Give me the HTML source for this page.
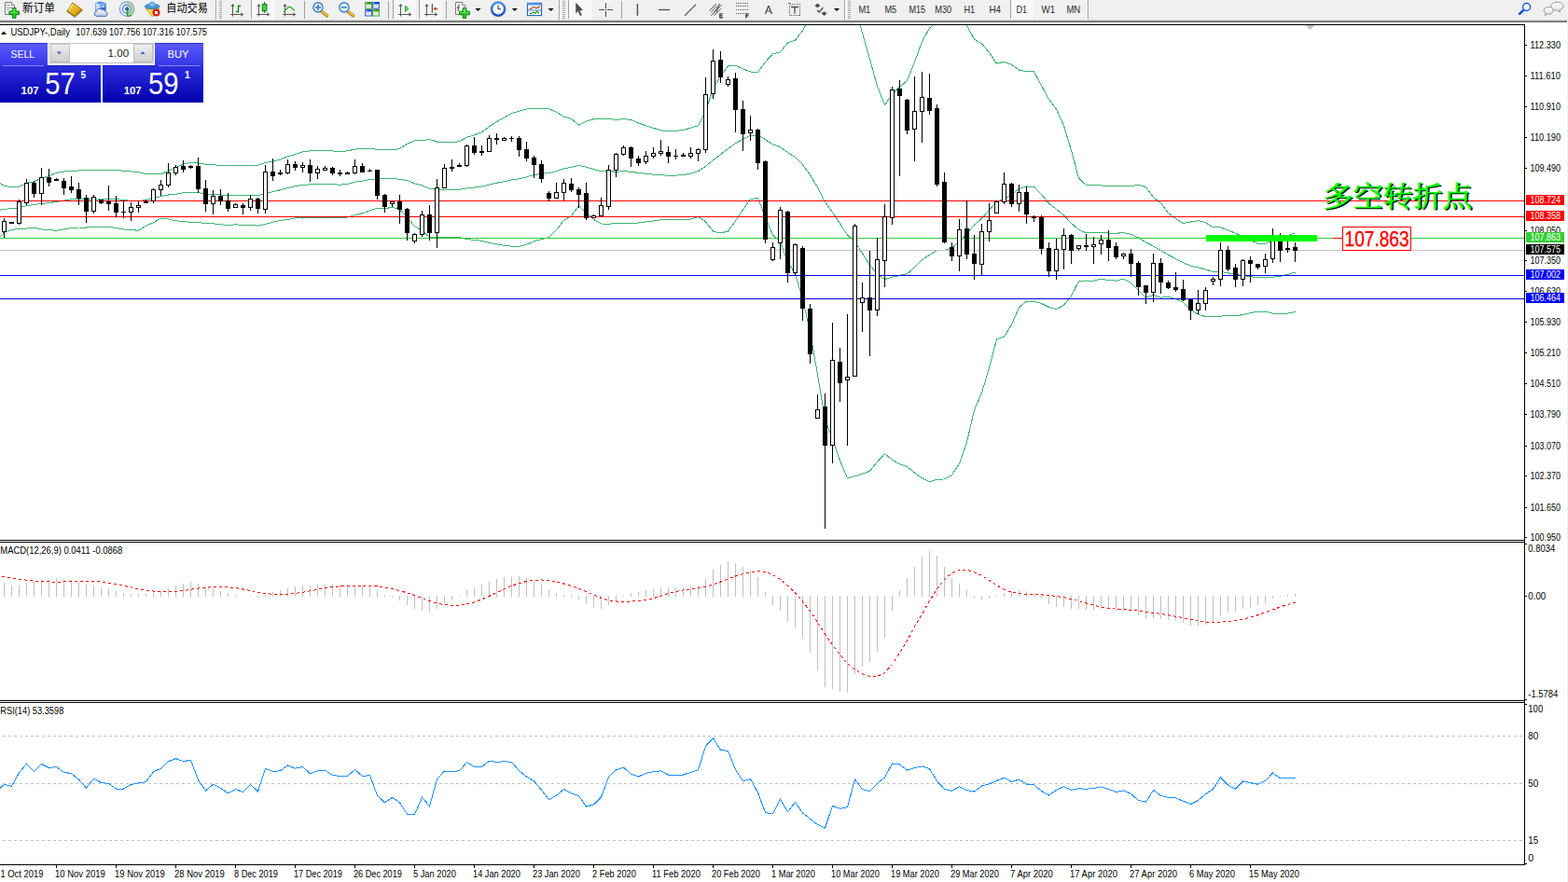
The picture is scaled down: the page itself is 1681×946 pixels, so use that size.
<!DOCTYPE html><html><head><meta charset="utf-8"><title>USDJPY-,Daily</title><style>html,body{margin:0;padding:0;background:#fff;overflow:hidden}body{width:1681px;height:946px;position:relative;font-family:"Liberation Sans",sans-serif}</style></head><body><svg width="1681" height="946" viewBox="0 0 1681 946" shape-rendering="crispEdges" font-family="Liberation Sans, sans-serif" style="position:absolute;left:0;top:0">
<rect x="0" y="0" width="1681" height="946" fill="#fff"/>
<rect x="0" y="26" width="1635" height="1" fill="#000"/>
<rect x="0" y="579" width="1635" height="1" fill="#000"/>
<rect x="0" y="581" width="1635" height="1" fill="#000"/>
<rect x="0" y="751" width="1635" height="1" fill="#000"/>
<rect x="0" y="753" width="1635" height="1" fill="#000"/>
<rect x="0" y="927" width="1635" height="1" fill="#000"/>
<rect x="1634" y="26" width="1" height="902" fill="#000"/>
<rect x="1680" y="24" width="1" height="922" fill="#f0f0f0"/>
<polyline points="-3.5,193.5 4.5,199.4 12.5,200.7 20.5,200.2 28.5,196.2 36.5,195 44.5,191.1 52.5,188.5 60.5,185.5 68.5,184.1 76.5,183.2 84.5,183 92.5,182.9 100.5,182.7 108.5,182.6 116.5,182.7 124.5,182.5 132.5,183.3 140.5,184 148.5,184.5 156.5,186.6 164.5,186.6 172.5,187 180.5,183.1 188.5,179.6 196.5,176.1 204.5,174.3 212.5,174.9 220.5,176.3 228.5,176.8 236.5,177.3 244.5,177.2 252.5,177.5 260.5,177.5 268.5,177.5 276.5,177.3 284.5,174.4 292.5,173 300.5,171.2 308.5,167.7 316.5,165.5 324.5,162.8 332.5,161.8 340.5,161.3 348.5,161.4 356.5,161.9 364.5,162.9 372.5,161.8 380.5,160.2 388.5,159.4 396.5,159.1 404.5,160.5 412.5,160.1 420.5,161 428.5,159.5 436.5,154.4 444.5,150.8 452.5,150.8 460.5,149.4 468.5,152 476.5,152 484.5,152.6 492.5,151.7 500.5,147.3 508.5,144.8 516.5,141.7 524.5,135.7 532.5,130.5 540.5,126.1 548.5,121.6 556.5,119.1 564.5,117.1 572.5,116.2 580.5,116.1 588.5,116.7 596.5,120.2 604.5,125.1 612.5,127.4 620.5,134.1 628.5,130.2 636.5,127.7 644.5,127.1 652.5,127.3 660.5,128.5 668.5,127.7 676.5,128.4 684.5,132 692.5,134.7 700.5,137.4 708.5,139.8 716.5,140.8 724.5,140.5 732.5,139.5 740.5,137.1 748.5,134.8 756.5,118.9 764.5,95.2 772.5,81.5 780.5,70.9 788.5,70.3 796.5,73.8 804.5,77 812.5,77.4 820.5,66.4 828.5,57.7 836.5,55.9 844.5,46 852.5,43.1 860.5,32.8 868.5,18.9 876.5,0.4 884.5,-16.7 892.5,-15.8 900.5,-14.2 908.5,-8.8 916.5,7.5 924.5,35.5 932.5,63.3 940.5,92.6 948.5,112.6 956.5,101.3 964.5,93.1 972.5,86.7 980.5,66.6 988.5,44.6 996.5,30.1 1004.5,23.3 1012.5,23.2 1020.5,22.1 1028.5,21 1036.5,27.2 1044.5,42.3 1052.5,46.8 1060.5,56.4 1068.5,68.2 1076.5,66.3 1084.5,69.3 1092.5,75.1 1100.5,76.8 1108.5,76.8 1116.5,91.8 1124.5,106.6 1132.5,117.1 1140.5,134.8 1148.5,161.5 1156.5,191.1 1164.5,198.7 1172.5,198.7 1180.5,199 1188.5,199.4 1196.5,199.3 1204.5,200 1212.5,199.6 1220.5,198.3 1228.5,200.6 1236.5,211.7 1244.5,217.6 1252.5,228.6 1260.5,234.5 1268.5,239.6 1276.5,238 1284.5,236.7 1292.5,238.7 1300.5,243.9 1308.5,243.8 1316.5,246.9 1324.5,250.3 1332.5,253.1 1340.5,257.7 1348.5,261.1 1356.5,261.4 1364.5,258 1372.5,255.9 1380.5,252.5 1388.5,249.8" fill="none" stroke="#3cb371" stroke-width="1" clip-path="url(#cm)"/>
<polyline points="-3.5,226 4.5,224.2 12.5,223.7 20.5,222.7 28.5,220.7 36.5,219.5 44.5,218.5 52.5,217.6 60.5,216.4 68.5,215.1 76.5,213.8 84.5,213.5 92.5,213.5 100.5,213.2 108.5,213 116.5,213 124.5,213.5 132.5,214.7 140.5,215.3 148.5,215.9 156.5,214.3 164.5,212.7 172.5,210.6 180.5,209 188.5,208.2 196.5,206.8 204.5,206.3 212.5,206.7 220.5,207.9 228.5,208.3 236.5,208.9 244.5,209.5 252.5,209.1 260.5,209.7 268.5,209.4 276.5,209.7 284.5,207.5 292.5,205.6 300.5,203.8 308.5,201.6 316.5,199.7 324.5,198.4 332.5,197.8 340.5,197.6 348.5,197.7 356.5,197.8 364.5,198.2 372.5,197.4 380.5,195.3 388.5,194.1 396.5,192.5 404.5,191.8 412.5,191.9 420.5,191.6 428.5,192.2 436.5,193.5 444.5,196.8 452.5,198.9 460.5,202.1 468.5,203.3 476.5,203.3 484.5,203.5 492.5,203.2 500.5,201.9 508.5,201.1 516.5,200 524.5,198.1 532.5,196.2 540.5,194.7 548.5,192.9 556.5,191.8 564.5,189.8 572.5,187.5 580.5,186.3 588.5,185.7 596.5,183.5 604.5,180.8 612.5,179.4 620.5,177.4 628.5,179.1 636.5,181.6 644.5,183.6 652.5,183.7 660.5,184.2 668.5,183.8 676.5,184.2 684.5,185.5 692.5,186.3 700.5,187.2 708.5,187.8 716.5,188.2 724.5,188.1 732.5,187.6 740.5,186.2 748.5,183.6 756.5,178.3 764.5,171.8 772.5,165.7 780.5,159.5 788.5,153.7 796.5,149.3 804.5,145.3 812.5,144.9 820.5,149.6 828.5,154.9 836.5,157.7 844.5,163.6 852.5,168.3 860.5,176.7 868.5,187.6 876.5,201.1 884.5,216.6 892.5,227.5 900.5,239.8 908.5,252.1 916.5,259.1 924.5,271.8 932.5,284.3 940.5,293.9 948.5,299.6 956.5,297.2 964.5,295.4 972.5,293.7 980.5,286.8 988.5,278.8 996.5,273.4 1004.5,268.7 1012.5,268.6 1020.5,265.8 1028.5,259.1 1036.5,250.8 1044.5,241.1 1052.5,234.2 1060.5,225.4 1068.5,216 1076.5,213.8 1084.5,208.8 1092.5,202.4 1100.5,200 1108.5,200.1 1116.5,208.7 1124.5,218.1 1132.5,224.4 1140.5,231.1 1148.5,239.3 1156.5,246.5 1164.5,249.8 1172.5,249.9 1180.5,249.1 1188.5,250.1 1196.5,250.2 1204.5,249.7 1212.5,251.4 1220.5,255 1228.5,259.9 1236.5,264.1 1244.5,268.4 1252.5,273.5 1260.5,277.6 1268.5,281.9 1276.5,285.2 1284.5,286.9 1292.5,289.1 1300.5,291.5 1308.5,291.4 1316.5,292.8 1324.5,294.5 1332.5,295.4 1340.5,296.6 1348.5,297.7 1356.5,297.8 1364.5,297.1 1372.5,296.4 1380.5,294.4 1388.5,292.1" fill="none" stroke="#3cb371" stroke-width="1" clip-path="url(#cm)"/>
<polyline points="-3.5,258.5 4.5,249 12.5,246.6 20.5,245.1 28.5,245.1 36.5,244.1 44.5,246 52.5,246.7 60.5,247.3 68.5,246 76.5,244.5 84.5,244 92.5,244 100.5,243.7 108.5,243.4 116.5,243.4 124.5,244.5 132.5,246 140.5,246.7 148.5,247.2 156.5,242.1 164.5,238.7 172.5,234.1 180.5,234.9 188.5,236.7 196.5,237.6 204.5,238.4 212.5,238.5 220.5,239.6 228.5,239.9 236.5,240.6 244.5,241.8 252.5,240.7 260.5,241.9 268.5,241.4 276.5,242.1 284.5,240.6 292.5,238.1 300.5,236.4 308.5,235.5 316.5,233.9 324.5,234 332.5,233.8 340.5,233.9 348.5,233.9 356.5,233.8 364.5,233.5 372.5,233 380.5,230.5 388.5,228.8 396.5,225.9 404.5,223.1 412.5,223.8 420.5,222.2 428.5,224.9 436.5,232.6 444.5,242.9 452.5,247 460.5,254.7 468.5,254.6 476.5,254.6 484.5,254.4 492.5,254.6 500.5,256.5 508.5,257.4 516.5,258.3 524.5,260.4 532.5,261.9 540.5,263.3 548.5,264.2 556.5,264.4 564.5,262.4 572.5,258.8 580.5,256.5 588.5,254.7 596.5,246.8 604.5,236.4 612.5,231.5 620.5,220.7 628.5,227.9 636.5,235.5 644.5,240 652.5,240.1 660.5,239.8 668.5,240 676.5,239.9 684.5,239 692.5,238 700.5,236.9 708.5,235.8 716.5,235.5 724.5,235.6 732.5,235.7 740.5,235.3 748.5,232.3 756.5,237.7 764.5,248.3 772.5,249.9 780.5,248.1 788.5,237.1 796.5,224.9 804.5,213.6 812.5,212.5 820.5,232.7 828.5,252.1 836.5,259.4 844.5,281.1 852.5,293.5 860.5,320.5 868.5,356.2 876.5,401.8 884.5,449.9 892.5,470.8 900.5,493.9 908.5,512.9 916.5,510.7 924.5,508.1 932.5,505.3 940.5,495.3 948.5,486.7 956.5,493.2 964.5,497.8 972.5,500.7 980.5,507 988.5,512.9 996.5,516.8 1004.5,514.1 1012.5,514 1020.5,509.5 1028.5,497.2 1036.5,474.4 1044.5,439.8 1052.5,421.5 1060.5,394.4 1068.5,363.8 1076.5,361.2 1084.5,348.2 1092.5,329.7 1100.5,323.2 1108.5,323.4 1116.5,325.5 1124.5,329.5 1132.5,331.7 1140.5,327.3 1148.5,317.1 1156.5,301.9 1164.5,301 1172.5,301.2 1180.5,299.1 1188.5,300.7 1196.5,301.1 1204.5,299.3 1212.5,303.2 1220.5,311.7 1228.5,319.2 1236.5,316.6 1244.5,319.1 1252.5,318.4 1260.5,320.6 1268.5,324.3 1276.5,332.5 1284.5,337.2 1292.5,339.6 1300.5,339.1 1308.5,339.1 1316.5,338.6 1324.5,338.7 1332.5,337.6 1340.5,335.6 1348.5,334.3 1356.5,334.2 1364.5,336.1 1372.5,336.8 1380.5,336.2 1388.5,334.4" fill="none" stroke="#3cb371" stroke-width="1" clip-path="url(#cm)"/>
<defs><clipPath id="cm"><rect x="0" y="27" width="1634" height="552"/></clipPath></defs>
<rect x="0" y="215" width="1634" height="1" fill="#f00"/>
<rect x="0" y="232" width="1634" height="1" fill="#f00"/>
<rect x="0" y="255" width="1634" height="1" fill="#32cd32"/>
<rect x="0" y="268" width="1634" height="1" fill="#c0c0c0"/>
<rect x="0" y="295" width="1634" height="1" fill="#00f"/>
<rect x="0" y="320" width="1634" height="1" fill="#00f"/>
<path d="M4 234h1v21h-1zM2 237h5v12h-5zM12 238h1v2h-1zM10 238h5v2h-5zM20 214h1v27h-1zM18 216h5v24h-5zM28 192h1v28h-1zM26 196h5v22h-5zM36 194h1v18h-1zM34 196h5v12h-5zM44 180h1v40h-1zM42 190h5v18h-5zM52 181h1v19h-1zM50 190h5v6h-5zM60 191h1v3h-1zM58 192h5v2h-5zM68 191h1v18h-1zM66 194h5v8h-5zM76 189h1v18h-1zM74 200h5v4h-5zM84 196h1v24h-1zM82 203h5v10h-5zM92 209h1v30h-1zM90 212h5v15h-5zM100 209h1v20h-1zM98 211h5v16h-5zM108 214h1v5h-1zM106 214h5v4h-5zM116 199h1v27h-1zM114 216h5v3h-5zM124 210h1v23h-1zM122 218h5v10h-5zM132 215h1v19h-1zM130 227h5v1h-5zM140 217h1v20h-1zM138 222h5v6h-5zM148 215h1v13h-1zM146 220h5v3h-5zM156 214h1v4h-1zM154 216h5v2h-5zM164 202h1v16h-1zM162 203h5v13h-5zM172 193h1v17h-1zM170 198h5v6h-5zM180 175h1v26h-1zM178 185h5v14h-5zM188 177h1v11h-1zM186 179h5v7h-5zM196 172h1v13h-1zM194 178h5v4h-5zM204 177h1v4h-1zM202 178h5v2h-5zM212 169h1v38h-1zM210 178h5v25h-5zM220 193h1v34h-1zM218 202h5v17h-5zM228 204h1v26h-1zM226 210h5v9h-5zM236 203h1v17h-1zM234 210h5v6h-5zM244 207h1v20h-1zM242 215h5v9h-5zM252 218h1v5h-1zM250 219h5v4h-5zM260 218h1v12h-1zM258 220h5v3h-5zM268 209h1v17h-1zM266 213h5v10h-5zM276 212h1v17h-1zM274 213h5v11h-5zM284 177h1v52h-1zM282 184h5v41h-5zM292 170h1v24h-1zM290 184h5v5h-5zM300 182h1v6h-1zM298 185h5v2h-5zM308 171h1v16h-1zM306 176h5v10h-5zM316 173h1v10h-1zM314 176h5v4h-5zM324 174h1v11h-1zM322 177h5v3h-5zM332 171h1v24h-1zM330 177h5v9h-5zM340 178h1v14h-1zM338 181h5v5h-5zM348 178h1v5h-1zM346 180h5v3h-5zM356 179h1v9h-1zM354 180h5v6h-5zM364 182h1v7h-1zM362 185h5v2h-5zM372 184h1v3h-1zM370 185h5v2h-5zM380 171h1v16h-1zM378 178h5v8h-5zM388 175h1v10h-1zM386 178h5v7h-5zM396 181h1v3h-1zM394 183h5v1h-5zM404 182h1v32h-1zM402 182h5v28h-5zM412 208h1v20h-1zM410 209h5v13h-5zM420 216h1v6h-1zM418 216h5v3h-5zM428 209h1v31h-1zM426 216h5v9h-5zM436 223h1v35h-1zM434 224h5v26h-5zM444 250h1v11h-1zM442 251h5v8h-5zM452 226h1v28h-1zM450 230h5v22h-5zM460 220h1v38h-1zM458 230h5v20h-5zM468 192h1v74h-1zM466 201h5v49h-5zM476 176h1v26h-1zM474 180h5v22h-5zM484 171h1v13h-1zM482 179h5v2h-5zM492 175h1v4h-1zM490 177h5v2h-5zM500 155h1v24h-1zM498 156h5v22h-5zM508 147h1v19h-1zM506 156h5v8h-5zM516 156h1v11h-1zM514 162h5v2h-5zM524 145h1v18h-1zM522 148h5v15h-5zM532 143h1v12h-1zM530 148h5v2h-5zM540 147h1v4h-1zM538 148h5v3h-5zM548 146h1v6h-1zM546 148h5v1h-5zM556 146h1v22h-1zM554 148h5v13h-5zM564 152h1v21h-1zM562 160h5v10h-5zM572 167h1v24h-1zM570 169h5v8h-5zM580 172h1v24h-1zM578 176h5v16h-5zM588 205h1v11h-1zM586 207h5v6h-5zM596 196h1v17h-1zM594 206h5v7h-5zM604 192h1v23h-1zM602 196h5v11h-5zM612 191h1v15h-1zM610 197h5v7h-5zM620 201h1v22h-1zM618 203h5v6h-5zM628 196h1v40h-1zM626 207h5v27h-5zM636 230h1v4h-1zM634 231h5v3h-5zM644 212h1v20h-1zM642 220h5v12h-5zM652 177h1v48h-1zM650 182h5v40h-5zM660 164h1v26h-1zM658 165h5v18h-5zM668 156h1v11h-1zM666 158h5v8h-5zM676 157h1v22h-1zM674 158h5v12h-5zM684 167h1v11h-1zM682 170h5v5h-5zM692 162h1v14h-1zM690 167h5v7h-5zM700 158h1v12h-1zM698 164h5v4h-5zM708 150h1v17h-1zM706 162h5v3h-5zM716 157h1v18h-1zM714 163h5v5h-5zM724 160h1v11h-1zM722 167h5v1h-5zM732 164h1v4h-1zM730 166h5v2h-5zM740 158h1v12h-1zM738 164h5v4h-5zM748 159h1v14h-1zM746 160h5v5h-5zM756 83h1v81h-1zM754 101h5v60h-5zM764 53h1v53h-1zM762 65h5v36h-5zM772 55h1v34h-1zM770 64h5v19h-5zM780 82h1v11h-1zM778 85h5v6h-5zM788 78h1v64h-1zM786 84h5v34h-5zM796 108h1v54h-1zM794 117h5v27h-5zM804 124h1v27h-1zM802 139h5v4h-5zM812 138h1v44h-1zM810 139h5v36h-5zM820 172h1v89h-1zM818 173h5v84h-5zM828 260h1v20h-1zM826 265h5v14h-5zM836 222h1v56h-1zM834 225h5v36h-5zM844 226h1v77h-1zM842 227h5v66h-5zM852 261h1v34h-1zM850 262h5v31h-5zM860 264h1v80h-1zM858 266h5v65h-5zM868 326h1v64h-1zM866 331h5v49h-5zM876 423h1v26h-1zM874 439h5v10h-5zM884 422h1v145h-1zM882 436h5v42h-5zM892 346h1v151h-1zM890 386h5v92h-5zM900 373h1v58h-1zM898 388h5v23h-5zM908 337h1v141h-1zM906 404h5v4h-5zM916 240h1v164h-1zM914 242h5v162h-5zM924 303h1v53h-1zM922 319h5v6h-5zM932 269h1v113h-1zM930 319h5v14h-5zM940 255h1v84h-1zM938 278h5v55h-5zM948 219h1v89h-1zM946 232h5v48h-5zM956 93h1v148h-1zM954 96h5v138h-5zM964 86h1v103h-1zM962 95h5v8h-5zM972 106h1v38h-1zM970 107h5v33h-5zM980 82h1v91h-1zM978 119h5v20h-5zM988 77h1v76h-1zM986 104h5v16h-5zM996 79h1v44h-1zM994 105h5v14h-5zM1004 112h1v88h-1zM1002 116h5v82h-5zM1012 185h1v76h-1zM1010 195h5v65h-5zM1020 260h1v20h-1zM1018 265h5v10h-5zM1028 235h1v56h-1zM1026 246h5v29h-5zM1036 215h1v63h-1zM1034 245h5v28h-5zM1044 252h1v48h-1zM1042 272h5v11h-5zM1052 240h1v56h-1zM1050 248h5v36h-5zM1060 218h1v41h-1zM1058 236h5v13h-5zM1068 215h1v14h-1zM1066 216h5v13h-5zM1076 185h1v34h-1zM1074 197h5v20h-5zM1084 196h1v26h-1zM1082 197h5v22h-5zM1092 198h1v29h-1zM1090 206h5v13h-5zM1100 200h1v40h-1zM1098 206h5v24h-5zM1108 231h1v7h-1zM1106 232h5v2h-5zM1116 231h1v42h-1zM1114 233h5v34h-5zM1124 260h1v37h-1zM1122 266h5v25h-5zM1132 256h1v44h-1zM1130 267h5v24h-5zM1140 245h1v44h-1zM1138 252h5v16h-5zM1148 251h1v32h-1zM1146 252h5v17h-5zM1156 263h1v6h-1zM1154 263h5v4h-5zM1164 251h1v18h-1zM1162 263h5v2h-5zM1172 254h1v29h-1zM1170 262h5v3h-5zM1180 252h1v21h-1zM1178 257h5v5h-5zM1188 247h1v33h-1zM1186 257h5v9h-5zM1196 260h1v18h-1zM1194 264h5v12h-5zM1204 271h1v7h-1zM1202 272h5v3h-5zM1212 267h1v30h-1zM1210 272h5v11h-5zM1220 280h1v37h-1zM1218 282h5v26h-5zM1228 306h1v20h-1zM1226 306h5v8h-5zM1236 272h1v52h-1zM1234 282h5v32h-5zM1244 277h1v38h-1zM1242 282h5v21h-5zM1252 301h1v9h-1zM1250 303h5v6h-5zM1260 292h1v21h-1zM1258 308h5v3h-5zM1268 300h1v23h-1zM1266 310h5v12h-5zM1276 321h1v22h-1zM1274 321h5v12h-5zM1284 311h1v26h-1zM1282 325h5v8h-5zM1292 308h1v25h-1zM1290 311h5v15h-5zM1300 297h1v9h-1zM1298 299h5v3h-5zM1308 260h1v47h-1zM1306 268h5v32h-5zM1316 264h1v27h-1zM1314 268h5v21h-5zM1324 283h1v25h-1zM1322 287h5v13h-5zM1332 278h1v29h-1zM1330 279h5v21h-5zM1340 275h1v28h-1zM1338 279h5v4h-5zM1348 283h1v6h-1zM1346 283h5v4h-5zM1356 272h1v21h-1zM1354 278h5v8h-5zM1364 245h1v37h-1zM1362 257h5v21h-5zM1372 250h1v31h-1zM1370 257h5v12h-5zM1380 259h1v12h-1zM1378 266h5v2h-5zM1388 260h1v21h-1zM1386 265h5v4h-5z" fill="#000"/>
<path d="M3 238h3v10h-3zM19 217h3v22h-3zM27 197h3v20h-3zM43 191h3v16h-3zM99 212h3v14h-3zM139 223h3v4h-3zM147 221h3v1h-3zM163 204h3v11h-3zM171 199h3v4h-3zM179 186h3v12h-3zM187 180h3v5h-3zM227 211h3v7h-3zM251 220h3v2h-3zM267 214h3v8h-3zM283 185h3v39h-3zM307 177h3v8h-3zM323 178h3v1h-3zM339 182h3v3h-3zM347 181h3v1h-3zM379 179h3v6h-3zM419 217h3v1h-3zM443 252h3v6h-3zM451 231h3v20h-3zM467 202h3v47h-3zM475 181h3v20h-3zM499 157h3v20h-3zM523 149h3v13h-3zM539 149h3v1h-3zM595 207h3v5h-3zM603 197h3v9h-3zM635 232h3v1h-3zM643 221h3v10h-3zM651 183h3v38h-3zM659 166h3v16h-3zM667 159h3v6h-3zM691 168h3v5h-3zM699 165h3v2h-3zM707 163h3v1h-3zM739 165h3v2h-3zM747 161h3v3h-3zM755 102h3v58h-3zM763 66h3v34h-3zM779 86h3v4h-3zM803 140h3v2h-3zM827 266h3v12h-3zM835 226h3v34h-3zM851 263h3v29h-3zM875 440h3v8h-3zM891 387h3v90h-3zM907 405h3v2h-3zM915 243h3v160h-3zM923 320h3v4h-3zM939 279h3v53h-3zM947 233h3v46h-3zM955 97h3v136h-3zM979 120h3v18h-3zM987 105h3v14h-3zM1027 247h3v27h-3zM1051 249h3v34h-3zM1059 237h3v11h-3zM1067 217h3v11h-3zM1075 198h3v18h-3zM1091 207h3v11h-3zM1131 268h3v22h-3zM1139 253h3v14h-3zM1155 264h3v2h-3zM1171 263h3v1h-3zM1179 258h3v3h-3zM1203 273h3v1h-3zM1235 283h3v30h-3zM1283 326h3v6h-3zM1291 312h3v13h-3zM1299 300h3v1h-3zM1307 269h3v30h-3zM1331 280h3v19h-3zM1355 279h3v6h-3zM1363 258h3v19h-3z" fill="#fff"/>
<rect x="1293" y="252" width="119" height="7" fill="#0f0"/>
<rect x="1429" y="255" width="10" height="1" fill="#f00"/>
<rect x="1439.5" y="243.5" width="73" height="25" fill="#fff" stroke="#f00" stroke-width="1"/>
<text x="1441.6" y="264.2" font-size="23.2" fill="#f00" textLength="69" lengthAdjust="spacingAndGlyphs" shape-rendering="auto" stroke="#f00" stroke-width=".35" style="text-rendering:geometricPrecision">107.863</text>
<g shape-rendering="auto" stroke-linejoin="round"><text x="1418.6" y="220.5" font-size="30" font-family="Liberation Serif, Noto Serif CJK SC, serif" fill="#000" stroke="#000" stroke-width=".5" textLength="160" lengthAdjust="spacingAndGlyphs" transform="translate(1.3,1.3)">多空转折点</text><text x="1418.6" y="220.5" font-size="30" font-family="Liberation Serif, Noto Serif CJK SC, serif" fill="#0f0" stroke="#0f0" stroke-width=".5" textLength="160" lengthAdjust="spacingAndGlyphs">多空转折点</text></g>
<path d="M1399 27h10l-5 5z" fill="#c0c0c0"/>
<rect x="1635" y="48" width="2" height="1" fill="#000"/>
<text x="1640.5" y="52" font-size="10.3" fill="#000" textLength="32.5" lengthAdjust="spacingAndGlyphs" shape-rendering="auto">112.330</text>
<rect x="1635" y="81" width="2" height="1" fill="#000"/>
<text x="1640.5" y="85" font-size="10.3" fill="#000" textLength="32.5" lengthAdjust="spacingAndGlyphs" shape-rendering="auto">111.610</text>
<rect x="1635" y="114" width="2" height="1" fill="#000"/>
<text x="1640.5" y="118" font-size="10.3" fill="#000" textLength="32.5" lengthAdjust="spacingAndGlyphs" shape-rendering="auto">110.910</text>
<rect x="1635" y="147" width="2" height="1" fill="#000"/>
<text x="1640.5" y="151" font-size="10.3" fill="#000" textLength="32.5" lengthAdjust="spacingAndGlyphs" shape-rendering="auto">110.190</text>
<rect x="1635" y="180" width="2" height="1" fill="#000"/>
<text x="1640.5" y="184" font-size="10.3" fill="#000" textLength="32.5" lengthAdjust="spacingAndGlyphs" shape-rendering="auto">109.490</text>
<rect x="1635" y="247" width="2" height="1" fill="#000"/>
<text x="1640.5" y="251" font-size="10.3" fill="#000" textLength="32.5" lengthAdjust="spacingAndGlyphs" shape-rendering="auto">108.050</text>
<rect x="1635" y="279" width="2" height="1" fill="#000"/>
<text x="1640.5" y="283" font-size="10.3" fill="#000" textLength="32.5" lengthAdjust="spacingAndGlyphs" shape-rendering="auto">107.350</text>
<rect x="1635" y="312" width="2" height="1" fill="#000"/>
<text x="1640.5" y="316" font-size="10.3" fill="#000" textLength="32.5" lengthAdjust="spacingAndGlyphs" shape-rendering="auto">106.630</text>
<rect x="1635" y="345" width="2" height="1" fill="#000"/>
<text x="1640.5" y="349" font-size="10.3" fill="#000" textLength="32.5" lengthAdjust="spacingAndGlyphs" shape-rendering="auto">105.930</text>
<rect x="1635" y="378" width="2" height="1" fill="#000"/>
<text x="1640.5" y="382" font-size="10.3" fill="#000" textLength="32.5" lengthAdjust="spacingAndGlyphs" shape-rendering="auto">105.210</text>
<rect x="1635" y="411" width="2" height="1" fill="#000"/>
<text x="1640.5" y="415" font-size="10.3" fill="#000" textLength="32.5" lengthAdjust="spacingAndGlyphs" shape-rendering="auto">104.510</text>
<rect x="1635" y="444" width="2" height="1" fill="#000"/>
<text x="1640.5" y="448" font-size="10.3" fill="#000" textLength="32.5" lengthAdjust="spacingAndGlyphs" shape-rendering="auto">103.790</text>
<rect x="1635" y="478" width="2" height="1" fill="#000"/>
<text x="1640.5" y="482" font-size="10.3" fill="#000" textLength="32.5" lengthAdjust="spacingAndGlyphs" shape-rendering="auto">103.070</text>
<rect x="1635" y="510" width="2" height="1" fill="#000"/>
<text x="1640.5" y="514" font-size="10.3" fill="#000" textLength="32.5" lengthAdjust="spacingAndGlyphs" shape-rendering="auto">102.370</text>
<rect x="1635" y="544" width="2" height="1" fill="#000"/>
<text x="1640.5" y="548" font-size="10.3" fill="#000" textLength="32.5" lengthAdjust="spacingAndGlyphs" shape-rendering="auto">101.650</text>
<rect x="1635" y="576" width="2" height="1" fill="#000"/>
<text x="1640.5" y="580" font-size="10.3" fill="#000" textLength="32.5" lengthAdjust="spacingAndGlyphs" shape-rendering="auto">100.950</text>
<rect x="1636" y="209" width="41" height="11" fill="#f00"/>
<text x="1640.5" y="218" font-size="10.3" fill="#fff" textLength="32.5" lengthAdjust="spacingAndGlyphs" shape-rendering="auto">108.724</text>
<rect x="1636" y="226" width="41" height="11" fill="#f00"/>
<text x="1640.5" y="235" font-size="10.3" fill="#fff" textLength="32.5" lengthAdjust="spacingAndGlyphs" shape-rendering="auto">108.358</text>
<rect x="1636" y="249" width="41" height="11" fill="#32cd32"/>
<text x="1640.5" y="258" font-size="10.3" fill="#fff" textLength="32.5" lengthAdjust="spacingAndGlyphs" shape-rendering="auto">107.863</text>
<rect x="1636" y="262" width="41" height="11" fill="#000"/>
<text x="1640.5" y="271" font-size="10.3" fill="#fff" textLength="32.5" lengthAdjust="spacingAndGlyphs" shape-rendering="auto">107.575</text>
<rect x="1636" y="289" width="41" height="11" fill="#00f"/>
<text x="1640.5" y="298" font-size="10.3" fill="#fff" textLength="32.5" lengthAdjust="spacingAndGlyphs" shape-rendering="auto">107.002</text>
<rect x="1636" y="314" width="41" height="11" fill="#00f"/>
<text x="1640.5" y="323" font-size="10.3" fill="#fff" textLength="32.5" lengthAdjust="spacingAndGlyphs" shape-rendering="auto">106.464</text>
<path d="M4 625h1v15h-1zM12 628h1v12h-1zM20 628h1v12h-1zM28 625h1v15h-1zM36 624h1v16h-1zM44 622h1v18h-1zM52 621h1v19h-1zM60 620h1v20h-1zM68 621h1v19h-1zM76 622h1v18h-1zM84 624h1v16h-1zM92 627h1v13h-1zM100 628h1v12h-1zM108 630h1v10h-1zM116 631h1v9h-1zM124 634h1v6h-1zM132 636h1v4h-1zM140 637h1v3h-1zM148 637h1v3h-1zM156 637h1v3h-1zM164 636h1v4h-1zM172 634h1v6h-1zM180 631h1v9h-1zM188 628h1v12h-1zM196 626h1v14h-1zM204 624h1v16h-1zM212 626h1v14h-1zM220 630h1v10h-1zM228 631h1v9h-1zM236 634h1v6h-1zM244 636h1v4h-1zM252 638h1v2h-1zM268 639h1v1h-1zM276 639h1v2h-1zM284 638h1v2h-1zM292 635h1v5h-1zM300 633h1v7h-1zM308 631h1v9h-1zM316 629h1v11h-1zM324 628h1v12h-1zM332 628h1v12h-1zM340 627h1v13h-1zM348 627h1v13h-1zM356 627h1v13h-1zM364 628h1v12h-1zM372 629h1v11h-1zM380 629h1v11h-1zM388 629h1v11h-1zM396 630h1v10h-1zM404 633h1v7h-1zM412 638h1v2h-1zM420 639h1v1h-1zM428 639h1v5h-1zM436 639h1v10h-1zM444 639h1v14h-1zM452 639h1v15h-1zM460 639h1v18h-1zM468 639h1v14h-1zM476 639h1v8h-1zM484 639h1v4h-1zM492 639h1v1h-1zM500 633h1v7h-1zM508 630h1v10h-1zM516 627h1v13h-1zM524 623h1v17h-1zM532 621h1v19h-1zM540 619h1v21h-1zM548 618h1v22h-1zM556 618h1v22h-1zM564 620h1v20h-1zM572 623h1v17h-1zM580 627h1v13h-1zM588 633h1v7h-1zM596 636h1v4h-1zM604 638h1v2h-1zM612 639h1v2h-1zM620 639h1v4h-1zM628 639h1v9h-1zM636 639h1v12h-1zM644 639h1v14h-1zM652 639h1v10h-1zM660 639h1v5h-1zM668 639h1v1h-1zM676 636h1v4h-1zM684 635h1v5h-1zM692 633h1v7h-1zM700 632h1v8h-1zM708 630h1v10h-1zM716 630h1v10h-1zM724 630h1v10h-1zM732 630h1v10h-1zM740 629h1v11h-1zM748 628h1v12h-1zM756 621h1v19h-1zM764 611h1v29h-1zM772 606h1v34h-1zM780 602h1v38h-1zM788 604h1v36h-1zM796 608h1v32h-1zM804 612h1v28h-1zM812 619h1v21h-1zM820 635h1v5h-1zM828 639h1v10h-1zM836 639h1v16h-1zM844 639h1v28h-1zM852 639h1v34h-1zM860 639h1v46h-1zM868 639h1v61h-1zM876 639h1v80h-1zM884 639h1v98h-1zM892 639h1v100h-1zM900 639h1v103h-1zM908 639h1v104h-1zM916 639h1v84h-1zM924 639h1v76h-1zM932 639h1v71h-1zM940 639h1v60h-1zM948 639h1v45h-1zM956 639h1v16h-1zM964 633h1v7h-1zM972 620h1v20h-1zM980 608h1v32h-1zM988 597h1v43h-1zM996 591h1v49h-1zM1004 596h1v44h-1zM1012 608h1v32h-1zM1020 620h1v20h-1zM1028 626h1v14h-1zM1036 633h1v7h-1zM1044 639h1v2h-1zM1052 639h1v4h-1zM1060 639h1v3h-1zM1068 639h1v1h-1zM1076 636h1v4h-1zM1084 635h1v5h-1zM1092 633h1v7h-1zM1100 634h1v6h-1zM1108 636h1v4h-1zM1116 639h1v2h-1zM1124 639h1v9h-1zM1132 639h1v12h-1zM1140 639h1v12h-1zM1148 639h1v14h-1zM1156 639h1v14h-1zM1164 639h1v15h-1zM1172 639h1v15h-1zM1180 639h1v14h-1zM1188 639h1v14h-1zM1196 639h1v16h-1zM1204 639h1v16h-1zM1212 639h1v17h-1zM1220 639h1v21h-1zM1228 639h1v25h-1zM1236 639h1v24h-1zM1244 639h1v25h-1zM1252 639h1v26h-1zM1260 639h1v27h-1zM1268 639h1v29h-1zM1276 639h1v32h-1zM1284 639h1v32h-1zM1292 639h1v31h-1zM1300 639h1v28h-1zM1308 639h1v21h-1zM1316 639h1v18h-1zM1324 639h1v17h-1zM1332 639h1v14h-1zM1340 639h1v12h-1zM1348 639h1v10h-1zM1356 639h1v8h-1zM1364 639h1v3h-1zM1372 639h1v1h-1zM1380 638h1v2h-1zM1388 637h1v3h-1z" fill="#c0c0c0"/>
<polyline points="-3.5,618.1 4.5,619 12.5,620.2 20.5,621.4 28.5,622.2 36.5,622.9 44.5,623.4 52.5,623.9 60.5,624.2 68.5,624 76.5,623.6 84.5,623.1 92.5,623.1 100.5,623.4 108.5,624 116.5,625.1 124.5,626.5 132.5,628.2 140.5,629.9 148.5,631.7 156.5,633.1 164.5,634.1 172.5,634.7 180.5,634.8 188.5,634.4 196.5,633.5 204.5,632.3 212.5,631.1 220.5,630.3 228.5,629.7 236.5,629.5 244.5,629.8 252.5,630.6 260.5,632 268.5,633.5 276.5,635.4 284.5,636.7 292.5,637.3 300.5,637.5 308.5,637.2 316.5,636.4 324.5,635.2 332.5,633.8 340.5,632.4 348.5,630.8 356.5,629.7 364.5,628.9 372.5,628.4 380.5,628.1 388.5,628.1 396.5,628.4 404.5,629 412.5,630.2 420.5,631.7 428.5,633.5 436.5,635.9 444.5,638.6 452.5,641.5 460.5,644.6 468.5,647.2 476.5,648.7 484.5,649.3 492.5,649.1 500.5,648 508.5,645.8 516.5,642.9 524.5,639.5 532.5,635.5 540.5,631.7 548.5,628.4 556.5,625.6 564.5,623.5 572.5,622.4 580.5,622 588.5,622.6 596.5,624.1 604.5,626 612.5,628.4 620.5,631.3 628.5,634.6 636.5,638 644.5,641.4 652.5,643.8 660.5,645 668.5,645.3 676.5,645.1 684.5,644.5 692.5,643.4 700.5,641.6 708.5,639.2 716.5,636.6 724.5,634.5 732.5,632.9 740.5,631.8 748.5,630.9 756.5,629.3 764.5,626.9 772.5,624 780.5,620.9 788.5,618 796.5,615.6 804.5,613.7 812.5,612.6 820.5,613.4 828.5,616.5 836.5,621.3 844.5,628.2 852.5,636 860.5,645.1 868.5,655.3 876.5,667.2 884.5,680.2 892.5,691.7 900.5,702.1 908.5,711.9 916.5,718.1 924.5,722.9 932.5,725.6 940.5,725.5 948.5,721.6 956.5,712.5 964.5,700.7 972.5,687.2 980.5,672.2 988.5,658.3 996.5,644.5 1004.5,631.8 1012.5,621.7 1020.5,614.5 1028.5,611.3 1036.5,611.3 1044.5,613.6 1052.5,617.4 1060.5,622.4 1068.5,627.9 1076.5,632.3 1084.5,635.2 1092.5,636.7 1100.5,637.7 1108.5,637.9 1116.5,637.9 1124.5,638.5 1132.5,639.4 1140.5,640.7 1148.5,642.6 1156.5,644.6 1164.5,647 1172.5,649.1 1180.5,651.1 1188.5,652.4 1196.5,653.2 1204.5,653.6 1212.5,654.3 1220.5,655.1 1228.5,656.3 1236.5,657.3 1244.5,658.4 1252.5,659.8 1260.5,661.2 1268.5,662.7 1276.5,664.5 1284.5,666.1 1292.5,667.2 1300.5,667.5 1308.5,667.2 1316.5,666.5 1324.5,665.5 1332.5,664 1340.5,662.1 1348.5,659.7 1356.5,656.9 1364.5,653.9 1372.5,650.9 1380.5,648.5 1388.5,646.2" fill="none" stroke="#f00" stroke-width="1" stroke-dasharray="3 3"/>
<text x="0.3" y="594.4" font-size="10.3" fill="#000" textLength="131" lengthAdjust="spacingAndGlyphs" shape-rendering="auto">MACD(12,26,9) 0.0411 -0.0868</text>
<text x="1638.3" y="592" font-size="10.3" fill="#000" textLength="28.9" lengthAdjust="spacingAndGlyphs" shape-rendering="auto">0.8034</text>
<text x="1638.3" y="643" font-size="10.3" fill="#000" textLength="18.9" lengthAdjust="spacingAndGlyphs" shape-rendering="auto">0.00</text>
<text x="1638.3" y="748" font-size="10.3" fill="#000" textLength="31.9" lengthAdjust="spacingAndGlyphs" shape-rendering="auto">-1.5784</text>
<rect x="1635" y="583" width="2" height="1" fill="#000"/>
<rect x="1635" y="639" width="2" height="1" fill="#000"/>
<rect x="1635" y="750" width="2" height="1" fill="#000"/>
<path d="M3 789.5H1634" stroke="#c0c0c0" stroke-dasharray="3 3" fill="none"/>
<path d="M3 840.5H1634" stroke="#c0c0c0" stroke-dasharray="3 3" fill="none"/>
<path d="M3 901.5H1634" stroke="#c0c0c0" stroke-dasharray="3 3" fill="none"/>
<polyline points="-3.5,848.9 4.5,841.3 12.5,843.3 20.5,828.7 28.5,819.2 36.5,827.4 44.5,819.5 52.5,823.5 60.5,822.6 68.5,828.3 76.5,829.7 84.5,836.1 92.5,845 100.5,835.2 108.5,839.6 116.5,840.3 124.5,846 132.5,846 140.5,841.5 148.5,840 156.5,838.5 164.5,827.7 172.5,824.4 180.5,816.8 188.5,813.6 196.5,816.6 204.5,815.4 212.5,836.7 220.5,847.9 228.5,841.3 236.5,845.4 244.5,850.6 252.5,846.6 260.5,849.4 268.5,841.3 276.5,849.1 284.5,824.2 292.5,827.7 300.5,826.7 308.5,821 316.5,824.2 324.5,822.5 332.5,829.9 340.5,826.8 348.5,826.2 356.5,831.5 364.5,832.4 372.5,832.4 380.5,825.5 388.5,832.5 396.5,831.7 404.5,853.4 412.5,860.8 420.5,855.3 428.5,860.8 436.5,873.1 444.5,873.5 452.5,855.2 460.5,864.8 468.5,835.8 476.5,827 484.5,827.6 492.5,826.7 500.5,817.6 508.5,822.5 516.5,822.5 524.5,816.1 532.5,817.5 540.5,816.7 548.5,817.4 556.5,826.7 564.5,833.1 572.5,837.8 580.5,847.1 588.5,857.9 596.5,853.1 604.5,846.5 612.5,850.8 620.5,853.5 628.5,865.1 636.5,862.9 644.5,854.9 652.5,833.3 660.5,825.9 668.5,823.1 676.5,830.2 684.5,833 692.5,829.2 700.5,827.8 708.5,826.8 716.5,831 724.5,831 732.5,831 740.5,828.4 748.5,825.8 756.5,800.3 764.5,791.7 772.5,804.3 780.5,805.6 788.5,825.4 796.5,837.6 804.5,835.6 812.5,850.1 820.5,871.5 828.5,873 836.5,857.2 844.5,870.7 852.5,860.5 860.5,871.9 868.5,878.2 876.5,884.5 884.5,888 892.5,864.2 900.5,867.3 908.5,865.6 916.5,835.8 924.5,846.7 932.5,848.6 940.5,840.2 948.5,833.9 956.5,818.9 964.5,820 972.5,826 980.5,823.6 988.5,821.9 996.5,824.6 1004.5,837.7 1012.5,846.4 1020.5,848.4 1028.5,843.7 1036.5,847.6 1044.5,849.1 1052.5,842.9 1060.5,840.9 1068.5,837.4 1076.5,834.2 1084.5,838.5 1092.5,836.1 1100.5,841 1108.5,841.8 1116.5,848.5 1124.5,853 1132.5,847.2 1140.5,843.7 1148.5,847.3 1156.5,845.8 1164.5,846.3 1172.5,845.4 1180.5,843.9 1188.5,846.5 1196.5,849.4 1204.5,847.9 1212.5,851.3 1220.5,858.5 1228.5,860.2 1236.5,847.3 1244.5,853.5 1252.5,855.3 1260.5,855.9 1268.5,859.2 1276.5,862.5 1284.5,858.5 1292.5,851.8 1300.5,846.3 1308.5,833.8 1316.5,842.1 1324.5,846.2 1332.5,837.9 1340.5,839.6 1348.5,841.2 1356.5,837.4 1364.5,829.1 1372.5,834.7 1380.5,834.3 1388.5,834.8" fill="none" stroke="#1e90ff" stroke-width="1"/>
<text x="0.3" y="766" font-size="10.3" fill="#000" textLength="68" lengthAdjust="spacingAndGlyphs" shape-rendering="auto">RSI(14) 53.3598</text>
<text x="1638.3" y="764" font-size="10.3" fill="#000" textLength="15.9" lengthAdjust="spacingAndGlyphs" shape-rendering="auto">100</text>
<text x="1638.3" y="793" font-size="10.3" fill="#000" textLength="10.9" lengthAdjust="spacingAndGlyphs" shape-rendering="auto">80</text>
<text x="1638.3" y="844" font-size="10.3" fill="#000" textLength="10.9" lengthAdjust="spacingAndGlyphs" shape-rendering="auto">50</text>
<text x="1638.3" y="905" font-size="10.3" fill="#000" textLength="10.9" lengthAdjust="spacingAndGlyphs" shape-rendering="auto">15</text>
<text x="1638.3" y="924" font-size="10.3" fill="#000" textLength="5.9" lengthAdjust="spacingAndGlyphs" shape-rendering="auto">0</text>
<rect x="1635" y="755" width="2" height="1" fill="#000"/>
<rect x="1635" y="926" width="2" height="1" fill="#000"/>
<text x="0.5" y="940.5" font-size="10.3" fill="#000" textLength="45.9" lengthAdjust="spacingAndGlyphs" shape-rendering="auto">1 Oct 2019</text>
<rect x="60" y="928" width="1" height="3" fill="#000"/>
<text x="59" y="940.5" font-size="10.3" fill="#000" textLength="53.9" lengthAdjust="spacingAndGlyphs" shape-rendering="auto">10 Nov 2019</text>
<rect x="124" y="928" width="1" height="3" fill="#000"/>
<text x="123" y="940.5" font-size="10.3" fill="#000" textLength="53.9" lengthAdjust="spacingAndGlyphs" shape-rendering="auto">19 Nov 2019</text>
<rect x="188" y="928" width="1" height="3" fill="#000"/>
<text x="187" y="940.5" font-size="10.3" fill="#000" textLength="53.9" lengthAdjust="spacingAndGlyphs" shape-rendering="auto">28 Nov 2019</text>
<rect x="252" y="928" width="1" height="3" fill="#000"/>
<text x="251" y="940.5" font-size="10.3" fill="#000" textLength="46.9" lengthAdjust="spacingAndGlyphs" shape-rendering="auto">8 Dec 2019</text>
<rect x="316" y="928" width="1" height="3" fill="#000"/>
<text x="315" y="940.5" font-size="10.3" fill="#000" textLength="51.9" lengthAdjust="spacingAndGlyphs" shape-rendering="auto">17 Dec 2019</text>
<rect x="380" y="928" width="1" height="3" fill="#000"/>
<text x="379" y="940.5" font-size="10.3" fill="#000" textLength="51.9" lengthAdjust="spacingAndGlyphs" shape-rendering="auto">26 Dec 2019</text>
<rect x="444" y="928" width="1" height="3" fill="#000"/>
<text x="443" y="940.5" font-size="10.3" fill="#000" textLength="45.9" lengthAdjust="spacingAndGlyphs" shape-rendering="auto">5 Jan 2020</text>
<rect x="508" y="928" width="1" height="3" fill="#000"/>
<text x="507" y="940.5" font-size="10.3" fill="#000" textLength="50.9" lengthAdjust="spacingAndGlyphs" shape-rendering="auto">14 Jan 2020</text>
<rect x="572" y="928" width="1" height="3" fill="#000"/>
<text x="571" y="940.5" font-size="10.3" fill="#000" textLength="50.9" lengthAdjust="spacingAndGlyphs" shape-rendering="auto">23 Jan 2020</text>
<rect x="636" y="928" width="1" height="3" fill="#000"/>
<text x="635" y="940.5" font-size="10.3" fill="#000" textLength="46.9" lengthAdjust="spacingAndGlyphs" shape-rendering="auto">2 Feb 2020</text>
<rect x="700" y="928" width="1" height="3" fill="#000"/>
<text x="699" y="940.5" font-size="10.3" fill="#000" textLength="51.9" lengthAdjust="spacingAndGlyphs" shape-rendering="auto">11 Feb 2020</text>
<rect x="764" y="928" width="1" height="3" fill="#000"/>
<text x="763" y="940.5" font-size="10.3" fill="#000" textLength="51.9" lengthAdjust="spacingAndGlyphs" shape-rendering="auto">20 Feb 2020</text>
<rect x="828" y="928" width="1" height="3" fill="#000"/>
<text x="827" y="940.5" font-size="10.3" fill="#000" textLength="46.9" lengthAdjust="spacingAndGlyphs" shape-rendering="auto">1 Mar 2020</text>
<rect x="892" y="928" width="1" height="3" fill="#000"/>
<text x="891" y="940.5" font-size="10.3" fill="#000" textLength="51.9" lengthAdjust="spacingAndGlyphs" shape-rendering="auto">10 Mar 2020</text>
<rect x="956" y="928" width="1" height="3" fill="#000"/>
<text x="955" y="940.5" font-size="10.3" fill="#000" textLength="51.9" lengthAdjust="spacingAndGlyphs" shape-rendering="auto">19 Mar 2020</text>
<rect x="1020" y="928" width="1" height="3" fill="#000"/>
<text x="1019" y="940.5" font-size="10.3" fill="#000" textLength="51.9" lengthAdjust="spacingAndGlyphs" shape-rendering="auto">29 Mar 2020</text>
<rect x="1084" y="928" width="1" height="3" fill="#000"/>
<text x="1083" y="940.5" font-size="10.3" fill="#000" textLength="45.9" lengthAdjust="spacingAndGlyphs" shape-rendering="auto">7 Apr 2020</text>
<rect x="1148" y="928" width="1" height="3" fill="#000"/>
<text x="1147" y="940.5" font-size="10.3" fill="#000" textLength="50.9" lengthAdjust="spacingAndGlyphs" shape-rendering="auto">17 Apr 2020</text>
<rect x="1212" y="928" width="1" height="3" fill="#000"/>
<text x="1211" y="940.5" font-size="10.3" fill="#000" textLength="50.9" lengthAdjust="spacingAndGlyphs" shape-rendering="auto">27 Apr 2020</text>
<rect x="1276" y="928" width="1" height="3" fill="#000"/>
<text x="1275" y="940.5" font-size="10.3" fill="#000" textLength="48.9" lengthAdjust="spacingAndGlyphs" shape-rendering="auto">6 May 2020</text>
<rect x="1340" y="928" width="1" height="3" fill="#000"/>
<text x="1339" y="940.5" font-size="10.3" fill="#000" textLength="53.9" lengthAdjust="spacingAndGlyphs" shape-rendering="auto">15 May 2020</text>
<path d="M1 37l3 -3.5l3 3.5z" fill="#000" shape-rendering="auto"/>
<text x="11.4" y="38" font-size="10.3" fill="#000" textLength="63.6" lengthAdjust="spacingAndGlyphs" shape-rendering="auto">USDJPY-,Daily</text>
<text x="81.3" y="38" font-size="10.3" fill="#000" textLength="140.6" lengthAdjust="spacingAndGlyphs" shape-rendering="auto">107.639 107.756 107.316 107.575</text>
<defs><linearGradient id="bt" x1="0" y1="0" x2="0" y2="1"><stop offset="0" stop-color="#5c5cff"/><stop offset="1" stop-color="#3434e6"/></linearGradient><linearGradient id="bp" x1="0" y1="0" x2="0" y2="1"><stop offset="0" stop-color="#2e2ee0"/><stop offset="1" stop-color="#0000ac"/></linearGradient><linearGradient id="sp" x1="0" y1="0" x2="0" y2="1"><stop offset="0" stop-color="#f2f2f2"/><stop offset=".5" stop-color="#dcdcdc"/><stop offset="1" stop-color="#cfcfcf"/></linearGradient></defs>
<rect x="0" y="46" width="51" height="25" fill="url(#bt)"/><rect x="166" y="46" width="52" height="25" fill="url(#bt)"/>
<rect x="0" y="70" width="108" height="40" fill="url(#bp)"/><rect x="110" y="70" width="108" height="40" fill="url(#bp)"/>
<rect x="0" y="46" width="51" height="1" fill="#3030d0"/><rect x="166" y="46" width="52" height="1" fill="#3030d0"/><rect x="51" y="70" width="57" height="1" fill="#1c1cc4"/><rect x="110" y="70" width="56" height="1" fill="#1c1cc4"/>
<rect x="3" y="70" width="44" height="1" fill="#8a8af4"/><rect x="170" y="70" width="44" height="1" fill="#8a8af4"/>
<rect x="51" y="46" width="115" height="24" fill="#fff"/><rect x="52.5" y="46.500" width="112" height="21" fill="#fff" stroke="#c4c4c4" stroke-width="1"/>
<rect x="54" y="47.500" width="20" height="19" fill="url(#sp)" stroke="#b4b4b4" stroke-width=".8"/><rect x="143" y="47.500" width="20" height="19" fill="url(#sp)" stroke="#b4b4b4" stroke-width=".8"/>
<path d="M61 55.500h5l-2.500 3z" fill="#4a5ec0" shape-rendering="auto"/><path d="M150.500 58h5l-2.500-3z" fill="#4a5ec0" shape-rendering="auto"/>
<text x="11.6" y="61.600" font-size="11.500" fill="#fff" textLength="25.300" lengthAdjust="spacingAndGlyphs" shape-rendering="auto">SELL</text>
<text x="179.500" y="61.600" font-size="11.500" fill="#fff" textLength="23" lengthAdjust="spacingAndGlyphs" shape-rendering="auto">BUY</text>
<text x="115.600" y="60.900" font-size="11.500" fill="#222" textLength="22.600" lengthAdjust="spacingAndGlyphs" shape-rendering="auto">1.00</text>
<text x="22.6" y="100.600" font-size="11.500" font-weight="bold" fill="#fff" textLength="19" lengthAdjust="spacingAndGlyphs" shape-rendering="auto">107</text>
<text x="48.2" y="101.300" font-size="33.500" fill="#fff" textLength="32.500" lengthAdjust="spacingAndGlyphs" shape-rendering="auto">57</text>
<text x="86.5" y="84.300" font-size="10" font-weight="bold" fill="#fff" shape-rendering="auto">5</text>
<text x="132.7" y="100.600" font-size="11.500" font-weight="bold" fill="#fff" textLength="19" lengthAdjust="spacingAndGlyphs" shape-rendering="auto">107</text>
<text x="159" y="101.300" font-size="33.500" fill="#fff" textLength="32.500" lengthAdjust="spacingAndGlyphs" shape-rendering="auto">59</text>
<text x="198.1" y="84.300" font-size="10" font-weight="bold" fill="#fff" shape-rendering="auto">1</text>
<defs><pattern id="chk" width="2" height="2" patternUnits="userSpaceOnUse"><rect width="2" height="2" fill="#ffffff"/><rect width="1" height="1" fill="#f0f0f0"/><rect x="1" y="1" width="1" height="1" fill="#f0f0f0"/></pattern><linearGradient id="gold" x1="0" y1="0" x2="1" y2="1"><stop offset="0" stop-color="#f7dd6a"/><stop offset=".55" stop-color="#e2b21a"/><stop offset="1" stop-color="#a8730a"/></linearGradient><linearGradient id="blu" x1="0" y1="0" x2="0" y2="1"><stop offset="0" stop-color="#5aa0ee"/><stop offset="1" stop-color="#1a4fc0"/></linearGradient><radialGradient id="sig" cx=".5" cy=".5" r=".5"><stop offset="0" stop-color="#2a62d8"/><stop offset="1" stop-color="#bcd0f2"/></radialGradient><linearGradient id="bub" x1="0" y1="0" x2="0" y2="1"><stop offset="0" stop-color="#ffffff"/><stop offset=".7" stop-color="#e4e4ee"/><stop offset="1" stop-color="#f4f4f8"/></linearGradient><linearGradient id="cld" x1="0" y1="0" x2="0" y2="1"><stop offset="0" stop-color="#ffffff"/><stop offset="1" stop-color="#b4c6e6"/></linearGradient></defs>
<rect x="0" y="0" width="1681" height="22" fill="#f0f0f0"/>
<rect x="0" y="21" width="1681" height="1" fill="#dcdcdc"/><rect x="0" y="22" width="1680" height="1" fill="#8e8e8e"/><rect x="0" y="23" width="1680" height="1" fill="#6a6a6a"/>
<g shape-rendering="auto"><path d="M5.5 2.5h7l3 3v10h-10z" fill="#fff" stroke="#7a7a7a" stroke-width="1"/><path d="M12.5 2.5v3h3" fill="#e6e6e6" stroke="#7a7a7a" stroke-width=".8"/><path d="M7 5.500h4M7 8.500h6M7 10.500h3" stroke="#9a9a9a" stroke-width="1"/></g>
<g shape-rendering="auto"><path d="M13.399999999999999 8.5h3.6v3.6h3.6v3.6h-3.6v3.6h-3.6v-3.6h-3.6v-3.6h3.6z" fill="#22c422" stroke="#0a7a0a" stroke-width=".9"/><path d="M14.2 9.3h2v3.600h3.600v1h-9.200v-1h3.600z" fill="#7cf07c" opacity=".7"/></g>
<text x="24" y="13.2" font-size="12" font-family="Liberation Sans, Noto Sans CJK SC, sans-serif" fill="#000" textLength="35" lengthAdjust="spacingAndGlyphs" shape-rendering="auto">新订单</text>
<g shape-rendering="auto"><path d="M80 18.4l-8.200-6.200 .300-1 8.300 5.800 7.600-7 .300 1.200z" fill="#f1e2a6" stroke="#8a5a08" stroke-width=".9" stroke-linejoin="round"/><path d="M77.600 3.100c2.600 1.400 7.200 4.600 10.400 7.300l-7.700 6.900-8.300-5.700c1.800-1.800 3.400-5 5.600-8.500z" fill="url(#gold)" stroke="#9a6a08" stroke-width=".9" stroke-linejoin="round"/><path d="M77.900 4.600c-1.600 2.400-2.800 4.800-4.400 6.600" stroke="#fdf2b8" stroke-width="1.100" fill="none" opacity=".85"/></g>
<g shape-rendering="auto"><path d="M102.600 3.400l4.800-1.300 5.800 1.500v8l-5.800 1.400-4.800-1.600z" fill="url(#blu)" stroke="#2a70d8" stroke-width=".8"/><path d="M102.600 3.400l4.800 1.600v8.200l-4.800-1.600z" fill="#dff0ff" opacity=".85"/><path d="M102.600 3.400l4.800 1.600 5.800-1.400" stroke="#d8ecff" stroke-width=".7" fill="none"/><path d="M108.600 7.300l3.400-.800" stroke="#f4faff" stroke-width="1.300"/><path d="M103.200 17.400a2.700 2.700 0 0 1 .300-5.300a3.300 3.300 0 0 1 6-1.300a2.800 2.800 0 0 1 3.900 1.900a2.400 2.400 0 0 1-.300 4.700z" fill="url(#cld)" stroke="#4f6fb4" stroke-width="1"/></g>
<g shape-rendering="auto" fill="none"><path d="M136.100 9.600V1.800a7.800 7.800 0 0 1 .900 15.600z" fill="#8fc08f" opacity=".55"/><path d="M136.100 1.800a7.800 7.800 0 0 0 0 15.600" stroke="#7f9fe0" stroke-width="1.200"/><path d="M136.100 1.800a7.800 7.800 0 0 1 0 15.600" stroke="#86b486" stroke-width="1.200"/><path d="M136.100 5a4.600 4.600 0 0 0 0 9.200" stroke="#4f7fd8" stroke-width="1.300"/><path d="M136.100 5a4.600 4.600 0 0 1 0 9.200" stroke="#6f9fc0" stroke-width="1.200"/><circle cx="136.100" cy="9.600" r="2.100" fill="#2257d0"/><path d="M136.600 10v7.500" stroke="#1fa01f" stroke-width="1.500"/><path d="M136.600 17.400c1.800 0 3.400-.500 4.600-1.400" stroke="#2aa02a" stroke-width="1.400"/></g>
<g shape-rendering="auto"><path d="M156 9l14.600 .200-7.200 8.800z" fill="#f6dc52" stroke="#c09a18" stroke-width=".8" stroke-linejoin="round"/><ellipse cx="163.200" cy="7" rx="7.800" ry="2.700" fill="#4a9ad8" stroke="#2a74b4" stroke-width=".8"/><path d="M159.300 6.600c-.400-5.600 8-5.600 7.800 0c-2.400 1-5.400 1-7.800 0z" fill="#78c0f0" stroke="#2a78b8" stroke-width=".8"/><circle cx="167.500" cy="13.600" r="4" fill="#dc2010"/><rect x="166" y="12.100" width="3" height="3" fill="#fff"/></g>
<text x="178.300" y="13.3" font-size="12" font-family="Liberation Sans, Noto Sans CJK SC, sans-serif" fill="#000" textLength="44.500" lengthAdjust="spacingAndGlyphs" shape-rendering="auto">自动交易</text>
<rect x="231" y="0" width="1" height="21" fill="#a0a0a0"/><rect x="232" y="0" width="1" height="21" fill="#fff"/>
<rect x="235" y="1" width="3" height="1" fill="#a8a8a8"/><rect x="235" y="3" width="3" height="1" fill="#a8a8a8"/><rect x="235" y="5" width="3" height="1" fill="#a8a8a8"/><rect x="235" y="7" width="3" height="1" fill="#a8a8a8"/><rect x="235" y="9" width="3" height="1" fill="#a8a8a8"/><rect x="235" y="11" width="3" height="1" fill="#a8a8a8"/><rect x="235" y="13" width="3" height="1" fill="#a8a8a8"/><rect x="235" y="15" width="3" height="1" fill="#a8a8a8"/><rect x="235" y="17" width="3" height="1" fill="#a8a8a8"/><rect x="235" y="19" width="3" height="1" fill="#a8a8a8"/>
<g stroke="#5a5a5a" stroke-width="1" fill="none" shape-rendering="auto"><path d="M249.500 5V17.600M247 15.500H260"/></g><path d="M249.500 4l2.200 2.800h-4.400zM261.200 15.500l-2.800 2.200v-4.400z" fill="#5a5a5a" shape-rendering="auto"/>
<path d="M255.500 5.400v8M255.500 6.500h2.600M252.800 12.500h2.700" stroke="#0a8a0a" stroke-width="1.300" fill="none" shape-rendering="auto"/>
<rect x="270" y="0" width="24" height="21" fill="url(#chk)"/><rect x="269" y="0" width="1" height="20" fill="#a0a0a0"/>
<g stroke="#5a5a5a" stroke-width="1" fill="none" shape-rendering="auto"><path d="M277.500 5V17.600M275 15.500H288"/></g><path d="M277.500 4l2.200 2.800h-4.400zM289.200 15.500l-2.800 2.200v-4.400z" fill="#5a5a5a" shape-rendering="auto"/>
<g shape-rendering="auto"><path d="M283.500 2v12" stroke="#0a7a0a" stroke-width="1.200"/><rect x="281.300" y="4.600" width="4.600" height="7.200" fill="#34e034" stroke="#0a7a0a" stroke-width="1"/></g>
<g stroke="#5a5a5a" stroke-width="1" fill="none" shape-rendering="auto"><path d="M305.500 5V17.600M303 15.500H316"/></g><path d="M305.500 4l2.200 2.800h-4.400zM317.200 15.500l-2.800 2.200v-4.400z" fill="#5a5a5a" shape-rendering="auto"/>
<path d="M304 13c2.500-1.200 4-5.800 6.200-5.800s3.400 3 5.800 4" stroke="#2a9a2a" stroke-width="1.200" fill="none" shape-rendering="auto"/>
<rect x="326" y="1" width="1" height="19" fill="#a0a0a0"/>
<g shape-rendering="auto"><path d="M344.600 12.100000000000001l6 4.800" stroke="#b8860b" stroke-width="3.400" stroke-linecap="round"/><path d="M344.900 12.000l5.600 4.500" stroke="#f2d25a" stroke-width="1.600" stroke-linecap="round"/><circle cx="341" cy="7.900" r="5.100" fill="#dceefa" stroke="#3b7cc9" stroke-width="1.400"/><path d="M338 7.900h6" stroke="#4a86b8" stroke-width="1.700"/><path d="M341 4.900v6" stroke="#4a86b8" stroke-width="1.700"/></g>
<g shape-rendering="auto"><path d="M372.600 12.100000000000001l6 4.800" stroke="#b8860b" stroke-width="3.400" stroke-linecap="round"/><path d="M372.900 12.000l5.600 4.500" stroke="#f2d25a" stroke-width="1.600" stroke-linecap="round"/><circle cx="369" cy="7.900" r="5.100" fill="#dceefa" stroke="#3b7cc9" stroke-width="1.400"/><path d="M366 7.900h6" stroke="#4a86b8" stroke-width="1.700"/></g>
<g shape-rendering="auto"><rect x="391.300" y="2" width="7.600" height="7.600" fill="#2f9a1e"/><rect x="392.300" y="4.600" width="5.600" height="4" fill="#fff"/><rect x="393.300" y="5.800" width="3.600" height="1" fill="#9ad48a"/><rect x="392.300" y="2.800" width="1.200" height="1" fill="#fff" opacity=".8"/><rect x="399.200" y="2" width="7.600" height="7.600" fill="#1c4fcf"/><rect x="400.200" y="4.600" width="5.600" height="4" fill="#fff"/><rect x="401.200" y="5.800" width="3.600" height="1" fill="#9ab4ee"/><rect x="400.200" y="2.800" width="1.200" height="1" fill="#fff" opacity=".8"/><rect x="391.300" y="9.900" width="7.600" height="7.600" fill="#1c4fcf"/><rect x="392.300" y="12.500" width="5.600" height="4" fill="#fff"/><rect x="393.300" y="13.700" width="3.600" height="1" fill="#9ab4ee"/><rect x="392.300" y="10.700000000000001" width="1.200" height="1" fill="#fff" opacity=".8"/><rect x="399.200" y="9.900" width="7.600" height="7.600" fill="#2f9a1e"/><rect x="400.200" y="12.500" width="5.600" height="4" fill="#fff"/><rect x="401.200" y="13.700" width="3.600" height="1" fill="#9ad48a"/><rect x="400.200" y="10.700000000000001" width="1.200" height="1" fill="#fff" opacity=".8"/></g>
<rect x="416" y="1" width="1" height="19" fill="#a0a0a0"/>
<rect x="422" y="0" width="24" height="21" fill="url(#chk)"/><rect x="421" y="0" width="1" height="20" fill="#a0a0a0"/>
<g stroke="#5a5a5a" stroke-width="1" fill="none" shape-rendering="auto"><path d="M429.500 5V17.600M427 15.500H440"/></g><path d="M429.500 4l2.200 2.800h-4.400zM441.200 15.500l-2.800 2.200v-4.400z" fill="#5a5a5a" shape-rendering="auto"/>
<path d="M434.600 6.300l3.400 3.100-3.400 3.100z" fill="#7ee07e" stroke="#109a10" stroke-width="1" stroke-linejoin="round" shape-rendering="auto"/>
<rect x="450" y="0" width="24" height="21" fill="url(#chk)"/><rect x="449" y="0" width="1" height="20" fill="#a0a0a0"/>
<g stroke="#5a5a5a" stroke-width="1" fill="none" shape-rendering="auto"><path d="M457.500 5V17.600M455 15.500H468"/></g><path d="M457.500 4l2.200 2.800h-4.400zM469.200 15.500l-2.800 2.200v-4.400z" fill="#5a5a5a" shape-rendering="auto"/>
<g shape-rendering="auto"><path d="M463.400 4.200v9.600" stroke="#1a6ab0" stroke-width="1.300"/><path d="M464.400 9.400l3-2.200v1.500h1.800v1.400h-1.800v1.500z" fill="#e04000"/></g>
<rect x="478" y="1" width="1" height="19" fill="#a0a0a0"/>
<g shape-rendering="auto"><path d="M488.500 2.500h7l3.400 3.400v9.600h-10.400z" fill="#fff" stroke="#7a7a7a" stroke-width="1"/><path d="M495.500 2.500v3.400h3.400" fill="#e6e6e6" stroke="#7a7a7a" stroke-width=".8"/><path d="M493.200 5.200c-1.600-.400-2 .600-2 2v5M490 8.200h2.800" stroke="#4a3a1a" stroke-width="1" fill="none"/></g>
<g shape-rendering="auto"><path d="M496.200 8.600h3.600v3.600h3.600v3.600h-3.600v3.600h-3.600v-3.600h-3.600v-3.600h3.600z" fill="#22c422" stroke="#0a7a0a" stroke-width=".9"/><path d="M497 9.400h2v3.600h3.600v1h-9.200v-1h3.600z" fill="#7cf07c" opacity=".7"/></g>
<path d="M509.500 9h6l-3 3z" fill="#000" shape-rendering="auto"/>
<g shape-rendering="auto"><circle cx="534.100" cy="9.700" r="6.900" fill="#fff" stroke="url(#blu)" stroke-width="2.400"/><circle cx="534.100" cy="9.700" r="7.900" fill="none" stroke="#1a4aa8" stroke-width=".5"/><path d="M534.100 5.600v4.200h3" stroke="#333" stroke-width="1.100" fill="none"/><circle cx="534.100" cy="13.600" r=".6" fill="#6aa0e8"/></g>
<path d="M548.800 9h6l-3 3z" fill="#000" shape-rendering="auto"/>
<g shape-rendering="auto"><rect x="565.500" y="3.400" width="15" height="13.200" fill="#fff" stroke="#2a66c0" stroke-width="1.200"/><rect x="565.500" y="3.400" width="15" height="2.200" fill="#5a9ae6"/><path d="M566 11h14" stroke="#2a66c0" stroke-width=".9"/><path d="M567.400 9.200l2.400-.100 1.400-1.400h1.800l1.200 1h1.800l1.400-1.400h1.600" stroke="#a02810" stroke-width="1.100" fill="none"/><path d="M568 14.600h1.600l1.400-1.200h1.600l1 1 1.800-2 1.400.400 1.400 1.800" stroke="#1a9a1a" stroke-width="1.100" fill="none"/></g>
<path d="M587.600 9h6l-3 3z" fill="#000" shape-rendering="auto"/>
<rect x="599" y="0" width="1" height="21" fill="#a0a0a0"/><rect x="600" y="0" width="1" height="21" fill="#fff"/>
<rect x="603" y="1" width="3" height="1" fill="#a8a8a8"/><rect x="603" y="3" width="3" height="1" fill="#a8a8a8"/><rect x="603" y="5" width="3" height="1" fill="#a8a8a8"/><rect x="603" y="7" width="3" height="1" fill="#a8a8a8"/><rect x="603" y="9" width="3" height="1" fill="#a8a8a8"/><rect x="603" y="11" width="3" height="1" fill="#a8a8a8"/><rect x="603" y="13" width="3" height="1" fill="#a8a8a8"/><rect x="603" y="15" width="3" height="1" fill="#a8a8a8"/><rect x="603" y="17" width="3" height="1" fill="#a8a8a8"/><rect x="603" y="19" width="3" height="1" fill="#a8a8a8"/>
<rect x="610" y="0" width="24" height="21" fill="url(#chk)"/><rect x="609" y="0" width="1" height="20" fill="#a0a0a0"/>
<path d="M617.200 2.800l8 8.200-3.600.2 2.200 5-1.900.8-2.200-5-2.500 2.500z" fill="#4d4d4d" shape-rendering="auto"/>
<path d="M642 10.500h6.200M651 10.500h6.200M649.500 3.200v6M649.500 12v6" stroke="#4d4d4d" stroke-width="1.100" fill="none" shape-rendering="auto"/><rect x="649" y="10" width="1" height="1" fill="#4d4d4d"/>
<rect x="666" y="1" width="1" height="19" fill="#a0a0a0"/>
<g stroke="#4d4d4d" fill="none" shape-rendering="auto"><path d="M683.400 4v12.800" stroke-width="1.400"/><path d="M706 10.500h12" stroke-width="1.300"/><path d="M734 16.800l12.200-12.200" stroke-width="1.200"/><path d="M760.400 11.600l7.600-7.600M762.200 16.600l11.400-11.400M765.400 16.800l7.600-7.600" stroke-width="1"/><path d="M762.400 13.400c2-3 3.800-5 5.800-6.600M765 14.600c1.600-3.200 3.600-6 6-9.800M768 13.800c.6-2.400 2-5.600 3.600-9.800" stroke-width=".9"/></g>
<path d="M771.200 14.200h3.800v1.100h-2.500v.9h2.200v1.100h-2.200v1h2.600v1.100h-3.900z" fill="#333" shape-rendering="auto"/>
<path d="M789 3.500H802" stroke="#555" stroke-width="1" stroke-dasharray="1 1" fill="none"/>
<path d="M789 6.500H802" stroke="#555" stroke-width="1" stroke-dasharray="1 1" fill="none"/>
<path d="M789 10.500H802" stroke="#555" stroke-width="1" stroke-dasharray="1 1" fill="none"/>
<path d="M789 14.500H798" stroke="#555" stroke-width="1" stroke-dasharray="1 1" fill="none"/>
<path d="M799.200 14.200h3.800v1.100h-2.500v1h2.200v1.100h-2.200v2.100h-1.300z" fill="#333" shape-rendering="auto"/>
<path d="M823.200 6.100h1.500l3.400 8.900h-1.500l-.9-2.500h-3.600l-.9 2.500h-1.400zm.7 1.400l-1.400 3.900h2.800z" fill="#4d4d4d" shape-rendering="auto"/>
<rect x="846.500" y="4.500" width="11" height="12" fill="none" stroke="#555" stroke-width="1" stroke-dasharray="1 1"/><rect x="845" y="3" width="2" height="1" fill="#555"/>
<path d="M848 6.800h8v1.400h-3.300v6.400h-1.400v-6.400h-3.300z" fill="#4d4d4d" shape-rendering="auto"/>
<g fill="#4d4d4d" shape-rendering="auto"><path d="M876.400 3.600l3.400 3.200h-1.600l-1.800 1.600-1.800-1.600h-1.600z"/><path d="M883.600 17l-3.400-3.200h1.600l1.800-1.600 1.800 1.600h1.600z"/><path d="M875.600 11.400l1-1 1.600 1.600 3.800-4.400 1 .9-4.800 5.500z"/></g>
<path d="M894 9h6l-3 3z" fill="#000" shape-rendering="auto"/>
<rect x="905" y="0" width="1" height="21" fill="#a0a0a0"/><rect x="906" y="0" width="1" height="21" fill="#fff"/>
<rect x="909" y="1" width="3" height="1" fill="#a8a8a8"/><rect x="909" y="3" width="3" height="1" fill="#a8a8a8"/><rect x="909" y="5" width="3" height="1" fill="#a8a8a8"/><rect x="909" y="7" width="3" height="1" fill="#a8a8a8"/><rect x="909" y="9" width="3" height="1" fill="#a8a8a8"/><rect x="909" y="11" width="3" height="1" fill="#a8a8a8"/><rect x="909" y="13" width="3" height="1" fill="#a8a8a8"/><rect x="909" y="15" width="3" height="1" fill="#a8a8a8"/><rect x="909" y="17" width="3" height="1" fill="#a8a8a8"/><rect x="909" y="19" width="3" height="1" fill="#a8a8a8"/>
<rect x="1084" y="0" width="24" height="21" fill="url(#chk)"/><rect x="1083" y="0" width="1" height="20" fill="#a0a0a0"/>
<text x="920.4" y="14" font-size="10.2" fill="#2b2b2b" textLength="12.9" lengthAdjust="spacingAndGlyphs" shape-rendering="auto">M1</text>
<text x="948.4" y="14" font-size="10.2" fill="#2b2b2b" textLength="12.7" lengthAdjust="spacingAndGlyphs" shape-rendering="auto">M5</text>
<text x="974.5" y="14" font-size="10.2" fill="#2b2b2b" textLength="17.6" lengthAdjust="spacingAndGlyphs" shape-rendering="auto">M15</text>
<text x="1002.2" y="14" font-size="10.2" fill="#2b2b2b" textLength="18.0" lengthAdjust="spacingAndGlyphs" shape-rendering="auto">M30</text>
<text x="1033.4" y="14" font-size="10.2" fill="#2b2b2b" textLength="11.7" lengthAdjust="spacingAndGlyphs" shape-rendering="auto">H1</text>
<text x="1060.4" y="14" font-size="10.2" fill="#2b2b2b" textLength="12.6" lengthAdjust="spacingAndGlyphs" shape-rendering="auto">H4</text>
<text x="1089.5" y="14" font-size="10.2" fill="#2b2b2b" textLength="11.6" lengthAdjust="spacingAndGlyphs" shape-rendering="auto">D1</text>
<text x="1116.6" y="14" font-size="10.2" fill="#2b2b2b" textLength="14.5" lengthAdjust="spacingAndGlyphs" shape-rendering="auto">W1</text>
<text x="1143.4" y="14" font-size="10.2" fill="#2b2b2b" textLength="14.9" lengthAdjust="spacingAndGlyphs" shape-rendering="auto">MN</text>
<rect x="1166" y="0" width="1" height="21" fill="#a0a0a0"/><rect x="1167" y="0" width="1" height="21" fill="#fff"/>
<g shape-rendering="auto"><path d="M1633.600 10.600l-4.400 4.200" stroke="#1a55d8" stroke-width="2.600" stroke-linecap="round"/><circle cx="1636.600" cy="7.500" r="4" fill="#fbfbff" stroke="#1a55d8" stroke-width="1.400"/></g>
<g shape-rendering="auto" stroke="#8c8c8c" stroke-width=".9"><path d="M1669.400 2.200c3.700 0 6.700 2 6.700 4.500 0 2-1.800 3.600-4.400 4.200l.9 2.300-2.600-2c-.2 0-.4 0-.6 0-3.700 0-6.700-2-6.700-4.500s3-4.500 6.700-4.500z" fill="url(#bub)"/><path d="M1660.200 7.500c2.800 0 5 1.700 5 3.800s-2.200 3.800-5 3.800c-.5 0-1 0-1.400-.1l-2.400 1.800.7-2.400c-1.200-.7-1.900-1.800-1.900-3.100 0-2.100 2.200-3.800 5-3.800z" fill="url(#bub)"/></g>
</svg></body></html>
